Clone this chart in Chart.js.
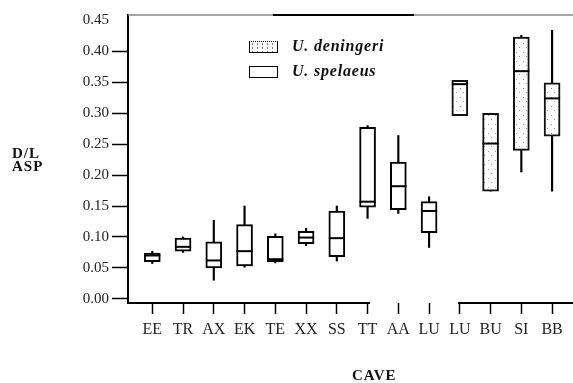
<!DOCTYPE html>
<html>
<head>
<meta charset="utf-8">
<script src="https://cdn.jsdelivr.net/npm/chart.js@4/dist/chart.umd.min.js"></script>
<style>
  body { margin: 0; background: #fff; }
  #wrap { position: relative; width: 573px; height: 383px; }
  .lbl { position: absolute; font-family: "Liberation Serif", serif; font-weight: bold; color: #111; white-space: nowrap; }
  .key { position: absolute; width: 27px; height: 10px; border: 1.5px solid #000; background: #fff; }
  .key.dots { background-image: radial-gradient(#777 0.7px, transparent 0.9px); background-size: 5px 4px; border-top-style: dotted; }
</style>
</head>
<body>
<div id="wrap">
  <canvas id="boxChart"></canvas>
  <div class="lbl" style="left:12px; top:147px; font-size:15px; line-height:12.5px; letter-spacing:1px;">D/L<br>ASP</div>
  <div class="lbl" style="left:352px; top:367px; font-size:15px; letter-spacing:1px;">CAVE</div>
  <div class="key dots" style="left:249px; top:41px;"></div>
  <div class="key" style="left:249px; top:66px;"></div>
  <div class="lbl" style="left:292px; top:37px; font-size:16px; font-style:italic; letter-spacing:0.8px;">U. deningeri</div>
  <div class="lbl" style="left:292px; top:62px; font-size:16px; font-style:italic; letter-spacing:0.8px;">U. spelaeus</div>
</div>
<script>
// Cave samples (x axis)
const categories = ['EE', 'TR', 'AX', 'EK', 'TE', 'XX', 'SS', 'TT', 'AA', 'LU', 'LU', 'BU', 'SI', 'BB'];
const species = ['spelaeus', 'spelaeus', 'spelaeus', 'spelaeus', 'spelaeus', 'spelaeus', 'spelaeus',
  'spelaeus', 'spelaeus', 'spelaeus', 'deningeri', 'deningeri', 'deningeri', 'deningeri'];

// D/L ASP box plot values
const lowWhisker = [0.057, 0.075, 0.030, 0.051, 0.058, 0.086, 0.061, 0.130, 0.138, 0.083, 0.296, 0.174, 0.205, 0.174];
const q1 = [0.060, 0.077, 0.050, 0.053, 0.060, 0.089, 0.068, 0.148, 0.144, 0.107, 0.296, 0.174, 0.240, 0.263];
const median = [0.070, 0.084, 0.062, 0.077, 0.064, 0.099, 0.098, 0.157, 0.182, 0.142, 0.347, 0.251, 0.368, 0.324];
const q3 = [0.074, 0.098, 0.092, 0.120, 0.101, 0.109, 0.142, 0.277, 0.221, 0.157, 0.353, 0.300, 0.423, 0.349];
const highWhisker = [0.077, 0.100, 0.127, 0.150, 0.105, 0.114, 0.150, 0.280, 0.264, 0.165, 0.353, 0.300, 0.426, 0.434];

const yTicks = [0, 0.05, 0.10, 0.15, 0.20, 0.25, 0.30, 0.35, 0.40, 0.45];

// speckled fill for U. deningeri boxes
function dotPattern() {
  const c = document.createElement('canvas');
  c.width = 7; c.height = 9;
  const g = c.getContext('2d');
  g.fillStyle = '#fff';
  g.fillRect(0, 0, 7, 9);
  g.fillStyle = '#999';
  g.fillRect(1, 2, 1, 1);
  g.fillRect(5, 7, 1, 1);
  return g.createPattern(c, 'repeat');
}
const dots = dotPattern();

const idx = categories.map((c, i) => i);
const boxes = sp => idx.filter(i => species[i] === sp).map(i => ({ x: i, y: [q1[i], q3[i]] }));

// frame lines as in the scan: grey top line with a darker piece, broken x axis line
const frame = {
  id: 'frame',
  afterDraw(chart) {
    const { ctx, chartArea: a } = chart;
    ctx.save();
    ctx.strokeStyle = '#888';
    ctx.lineWidth = 1.5;
    ctx.beginPath();
    ctx.moveTo(a.left, a.top);
    ctx.lineTo(a.right, a.top);
    ctx.stroke();
    ctx.strokeStyle = '#000';
    ctx.lineWidth = 2;
    ctx.beginPath();
    ctx.moveTo(273, a.top);
    ctx.lineTo(414, a.top);
    ctx.moveTo(a.left - 1, a.bottom);
    ctx.lineTo(370, a.bottom);
    ctx.moveTo(458, a.bottom);
    ctx.lineTo(a.right, a.bottom);
    ctx.stroke();
    ctx.restore();
  }
};

const ctx = document.getElementById('boxChart').getContext('2d');
new Chart(ctx, {
  type: 'bar',
  data: {
    datasets: [
      {
        type: 'scatter',
        label: 'median',
        data: idx.map(i => ({ x: i, y: median[i] })),
        pointStyle: 'line',
        pointRadius: 8,
        borderColor: '#000',
        borderWidth: 2,
        order: 0
      },
      {
        label: 'U. deningeri',
        data: boxes('deningeri'),
        backgroundColor: dots,
        borderColor: '#111',
        borderWidth: 2,
        borderSkipped: false,
        barThickness: 16,
        grouped: false,
        order: 1
      },
      {
        label: 'U. spelaeus',
        data: boxes('spelaeus'),
        backgroundColor: '#fff',
        borderColor: '#000',
        borderWidth: 2,
        borderSkipped: false,
        barThickness: 16,
        grouped: false,
        order: 2
      },
      {
        label: 'whisker low',
        data: idx.map(i => ({ x: i, y: [lowWhisker[i], q1[i]] })),
        backgroundColor: '#000',
        borderWidth: 0,
        barThickness: 1.5,
        grouped: false,
        order: 3
      },
      {
        label: 'whisker high',
        data: idx.map(i => ({ x: i, y: [q3[i], highWhisker[i]] })),
        backgroundColor: '#000',
        borderWidth: 0,
        barThickness: 1.5,
        grouped: false,
        order: 4
      }
    ]
  },
  options: {
    responsive: true,
    maintainAspectRatio: false,
    animation: false,
    layout: { autoPadding: false, padding: { top: 15, right: 0, left: 0, bottom: 0 } },
    plugins: { legend: { display: false }, tooltip: { enabled: false } },
    scales: {
      x: {
        type: 'linear',
        offset: false,
        min: -0.79,
        max: 13.68,
        afterBuildTicks: axis => { axis.ticks = idx.map(i => ({ value: i })); },
        afterFit: scale => { scale.height = 80; scale.paddingLeft = 0; scale.paddingRight = 0; },
        grid: { offset: false, drawOnChartArea: false, tickLength: 11, tickWidth: 1.5, tickColor: '#000' },
        border: { display: false },
        ticks: {
          autoSkip: false,
          maxRotation: 0,
          padding: 6,
          color: '#222',
          font: { family: 'Liberation Serif', size: 16 },
          callback: v => categories[v]
        }
      },
      y: {
        min: -0.0068,
        max: 0.4588,
        afterBuildTicks: axis => { axis.ticks = yTicks.map(v => ({ value: v })); },
        afterFit: scale => { scale.width = 128; },
        grid: {
          drawOnChartArea: false,
          tickLength: 16,
          tickWidth: 1.5,
          tickColor: c => (c.tick && c.tick.value === 0.45 ? 'rgba(0,0,0,0)' : '#000')
        },
        border: { display: true, color: '#000', width: 2 },
        ticks: {
          padding: 3,
          color: '#222',
          font: { family: 'Liberation Serif', size: 15 },
          callback: v => v.toFixed(2)
        }
      }
    }
  },
  plugins: [frame]
});
</script>
</body>
</html>
